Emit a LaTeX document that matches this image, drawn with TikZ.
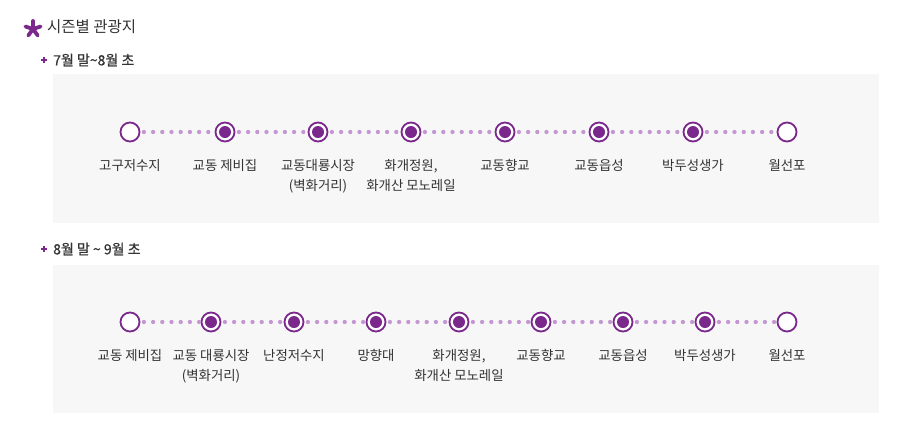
\documentclass[tikz,border=0pt]{standalone}
\usepackage{fontspec}
\setmainfont{Noto Sans CJK KR}
\newfontfamily\semibold[FakeBold=0.7]{Noto Sans CJK KR}
\usetikzlibrary{calc}
\definecolor{tourpurple}{RGB}{122,40,140}
\definecolor{dotpurple}{RGB}{196,150,210}
\definecolor{boxgray}{RGB}{247,247,247}
\definecolor{txtgray}{RGB}{51,51,51}
\tikzset{%
  stop/.style={circle, draw=tourpurple, line width=1.8pt, fill=white,
               minimum size=19pt, inner sep=0pt},
  stopfull/.style={stop, path picture={\fill[tourpurple] (path picture bounding box.center) circle (6pt);}},
  dotline/.style={dotpurple, line width=4.3pt, line cap=round, dash pattern=on 0pt off 9.2pt, shorten <=3.5pt},
  stoplabel/.style={anchor=north, align=center, text=txtgray, font=\fontsize{13.4}{20}\selectfont, inner sep=0pt},
  subtitle/.style={anchor=west, text=txtgray, font=\fontsize{14}{16}\semibold, inner sep=0pt},
}

\begin{document}
\begin{tikzpicture}[x=1pt, y=-1pt]
    \useasboundingbox (0,0) rectangle (905,421);
    \fill[white] (0,0) rectangle (905,421);

    % heading
    \foreach \a in {90,162,234,306,18}
        \draw[tourpurple, line width=3.8pt, line cap=round] (33,29) -- ++(\a:-8);
    \node[anchor=west, text=txtgray, font=\fontsize{15.5}{16}\selectfont, inner sep=0pt] (title) at (47,27) {시즌별 관광지};

    % first season
    \draw[tourpurple, line width=1.4pt] (41,60) -- (47,60) (44,57) -- (44,63);
    \node[subtitle] (seasonA) at (53,60) {7월 말\textasciitilde8월 초};
    \fill[boxgray] (53,74) rectangle (879,223);

    \foreach \x/\n/\s/\t in {130/1/stop/고구저수지, 225/2/stopfull/교동 제비집,
        318/3/stopfull/교동대룡시장\\(벽화거리), 411/4/stopfull/{화개정원,\\화개산 모노레일},
        505/5/stopfull/교동향교, 599/6/stopfull/교동읍성, 693/7/stopfull/박두성생가, 787/8/stop/월선포}
    {
        \node[\s] (a\n) at (\x,132) {};
        \node[stoplabel] (la\n) at (\x,159.5) {\t};
    }
    \foreach \i [count=\j from 2] in {1,...,7}
        \draw[dotline] (a\i) -- (a\j);

    % second season
    \draw[tourpurple, line width=1.4pt] (41,249) -- (47,249) (44,246) -- (44,252);
    \node[subtitle] (seasonB) at (53,249) {8월 말 \textasciitilde{} 9월 초};
    \fill[boxgray] (53,265) rectangle (879,413);

    \foreach \x/\n/\s/\t in {130/1/stop/교동 제비집, 211/2/stopfull/교동 대룡시장\\(벽화거리),
        294/3/stopfull/난정저수지, 376/4/stopfull/망향대, 459/5/stopfull/{화개정원,\\화개산 모노레일},
        541/6/stopfull/교동향교, 623/7/stopfull/교동읍성, 705/8/stopfull/박두성생가, 787/9/stop/월선포}
    {
        \node[\s] (b\n) at (\x,322) {};
        \node[stoplabel] (lb\n) at (\x,349.5) {\t};
    }
    \foreach \i [count=\j from 2] in {1,...,8}
        \draw[dotline] (b\i) -- (b\j);
\end{tikzpicture}
\end{document}
